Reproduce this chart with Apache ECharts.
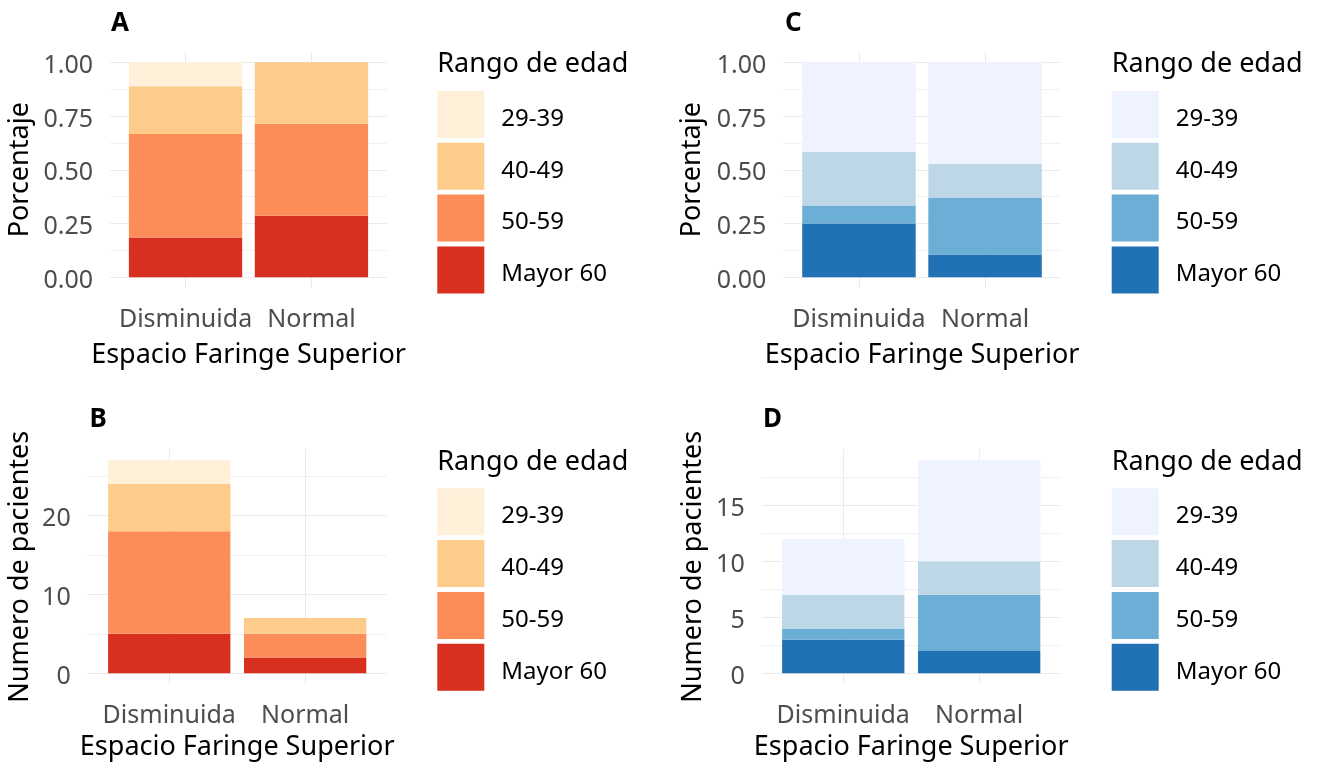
<!DOCTYPE html>
<html>
<head>
<meta charset="utf-8">
<script src="https://cdn.jsdelivr.net/npm/echarts@6/dist/echarts.min.js"></script>
<style>
    html, body { margin: 0; padding: 0; background: #fff; }
    #chart { width: 1319px; height: 767px; }
</style>
</head>
<body>
<div id="chart"></div>
<script>
    const categories = ['Disminuida', 'Normal'];
    const ageGroups = ['29-39', '40-49', '50-59', 'Mayor 60'];

    // numero de pacientes (Disminuida, Normal) - paneles A y B
    const orange2939 = [3, 0];
    const orange4049 = [6, 2];
    const orange5059 = [13, 3];
    const orangeMayor60 = [5, 2];

    // numero de pacientes (Disminuida, Normal) - paneles C y D
    const blue2939 = [5, 9];
    const blue4049 = [3, 3];
    const blue5059 = [1, 5];
    const blueMayor60 = [3, 2];

    const orangeColors = ['#FEF0D9', '#FDCC8A', '#FC8D59', '#D7301F'];
    const blueColors = ['#EFF3FF', '#BDD7E7', '#6BAED6', '#2171B5'];

    const pctTicks = [0, 0.25, 0.5, 0.75, 1];
    const pctGrid = [0, 0.125, 0.25, 0.375, 0.5, 0.625, 0.75, 0.875, 1];
    const countTicksB = [0, 10, 20];
    const countGridB = [0, 5, 10, 15, 20, 25];
    const countTicksD = [0, 5, 10, 15];
    const countGridD = [0, 2.5, 5, 7.5, 10, 12.5, 15, 17.5];

    const FONT = '"Noto Sans", "Liberation Sans", Arial, sans-serif';

    const panels = [
        {letter: 'A', grid: {left: 110, top: 51.5, width: 277, height: 236.5},
            counts: [orange2939, orange4049, orange5059, orangeMayor60], colors: orangeColors, prefix: '',
            pct: true, ticks: pctTicks, gridLines: pctGrid, yName: 'Porcentaje', yGap: 76, xGap: 54,
            letterPos: [111, 10.5], legendPos: [437.3, 91], legendTitleTop: 51},
        {letter: 'B', grid: {left: 87.7, top: 449.5, width: 299, height: 234.5},
            counts: [orange2939, orange4049, orange5059, orangeMayor60], colors: orangeColors, prefix: '',
            pct: false, ticks: countTicksB, gridLines: countGridB, yName: 'Numero de pacientes', yGap: 54, xGap: 50,
            letterPos: [89.5, 407], legendPos: [437.3, 488.3], legendTitleTop: 448.5},
        {letter: 'C', grid: {left: 783.3, top: 51.5, width: 277.4, height: 236.5},
            counts: [blue2939, blue4049, blue5059, blueMayor60], colors: blueColors, prefix: 'azul ',
            pct: true, ticks: pctTicks, gridLines: pctGrid, yName: 'Porcentaje', yGap: 77, xGap: 54,
            letterPos: [785, 10.5], legendPos: [1111.7, 91], legendTitleTop: 51},
        {letter: 'D', grid: {left: 761.7, top: 449.5, width: 299, height: 234.5},
            counts: [blue2939, blue4049, blue5059, blueMayor60], colors: blueColors, prefix: 'azul ',
            pct: false, ticks: countTicksD, gridLines: countGridD, yName: 'Numero de pacientes', yGap: 55, xGap: 50,
            letterPos: [763, 407], legendPos: [1111.7, 488.3], legendTitleTop: 448.5}
    ];

    let option = {
        backgroundColor: '#fff',
        animation: false,
        title: [],
        legend: [],
        grid: [],
        xAxis: [],
        yAxis: [],
        series: []
    };

    panels.forEach((p) => {
        let totals = categories.map((c, j) => p.counts.reduce((s, arr) => s + arr[j], 0));
        let top = p.pct ? 1 : Math.max(...totals);
        let pad = top * 0.05;

        // panel grid (ggplot-like expansion 0.6 on a discrete axis): gridlines, labels, names
        let gi = option.grid.length;
        option.grid.push(Object.assign({outerBoundsMode: 'none', containLabel: false}, p.grid));
        option.xAxis.push({
            gridIndex: gi,
            type: 'value',
            min: 0.4,
            max: 2.6,
            name: 'Espacio Faringe Superior',
            nameLocation: 'middle',
            nameGap: p.xGap,
            nameTextStyle: {fontFamily: FONT, fontSize: 27, color: '#000'},
            axisLine: {show: false},
            axisTick: {show: false, customValues: [1, 2]},
            axisLabel: {
                customValues: [1, 2],
                margin: 19,
                fontFamily: FONT, fontSize: 25, color: '#4D4D4D',
                formatter: v => categories[Math.round(v) - 1]
            },
            splitLine: {show: true, lineStyle: {color: '#EBEBEB', width: 1}}
        });
        option.yAxis.push({
            gridIndex: gi,
            type: 'value',
            min: -pad,
            max: top + pad,
            name: p.yName,
            nameLocation: 'middle',
            nameRotate: 90,
            nameGap: p.yGap,
            nameTextStyle: {fontFamily: FONT, fontSize: 27, color: '#000'},
            axisLine: {show: false},
            axisTick: {show: false, customValues: p.gridLines},
            axisLabel: {
                customValues: p.ticks,
                margin: 17,
                fontFamily: FONT, fontSize: 25, color: '#4D4D4D',
                // small spacer line so the digits sit a bit below the gridline, as in ggplot
                formatter: v => '{s| }\n{v|' + (p.pct ? v.toFixed(2) : String(v)) + '}',
                rich: {
                    s: {fontSize: 1, height: 7, lineHeight: 7},
                    v: {fontFamily: FONT, fontSize: 25, color: '#4D4D4D', lineHeight: 28}
                }
            },
            splitLine: {show: true, lineStyle: {color: ['#EBEBEB', '#F1F1F1'], width: 1}}
        });

        // bar grid: the two category bands (0.5 .. 2.5) inside the panel
        let unit = p.grid.width / 2.2;
        let bi = option.grid.length;
        option.grid.push({
            outerBoundsMode: 'none', containLabel: false,
            left: p.grid.left + 0.1 * unit, top: p.grid.top,
            width: 2 * unit, height: p.grid.height
        });
        option.xAxis.push({
            gridIndex: bi, type: 'category', data: categories, show: false
        });
        option.yAxis.push({
            gridIndex: bi, type: 'value', min: -pad, max: top + pad, show: false,
            splitLine: {show: false}
        });

        // stack from the bottom: Mayor 60 first
        for (let g = ageGroups.length - 1; g >= 0; g--) {
            option.series.push({
                name: p.prefix + ageGroups[g],
                type: 'bar',
                xAxisIndex: bi,
                yAxisIndex: bi,
                stack: p.letter,
                barWidth: '90%',
                itemStyle: {color: p.colors[g]},
                data: categories.map((c, j) => p.pct ? p.counts[g][j] / totals[j] : p.counts[g][j])
            });
        }

        option.title.push({
            text: p.letter,
            left: p.letterPos[0], top: p.letterPos[1], padding: 0,
            textStyle: {fontFamily: FONT, fontSize: 26, fontWeight: 'bold', color: '#000'}
        });
        option.title.push({
            text: 'Rango de edad',
            left: p.legendPos[0], top: p.legendTitleTop, padding: 0,
            textStyle: {fontFamily: FONT, fontSize: 27, fontWeight: 'normal', color: '#000'}
        });

        option.legend.push({
            orient: 'vertical',
            left: p.legendPos[0],
            top: p.legendPos[1],
            padding: 0,
            icon: 'rect',
            itemWidth: 47,
            itemHeight: 47,
            itemGap: 4.8,
            selectedMode: false,
            data: ageGroups.map(a => p.prefix + a),
            formatter: name => '{s| }\n{t|' + name.replace(/^azul /, '') + '}',
            textStyle: {
                fontFamily: FONT, fontSize: 24, color: '#000', padding: [0, 0, 0, 12],
                rich: {
                    s: {fontSize: 1, height: 9, lineHeight: 9},
                    t: {fontFamily: FONT, fontSize: 24, color: '#000', lineHeight: 28}
                }
            }
        });
    });

    let chart = echarts.init(document.getElementById('chart'));
    chart.setOption(option);
</script>
</body>
</html>
